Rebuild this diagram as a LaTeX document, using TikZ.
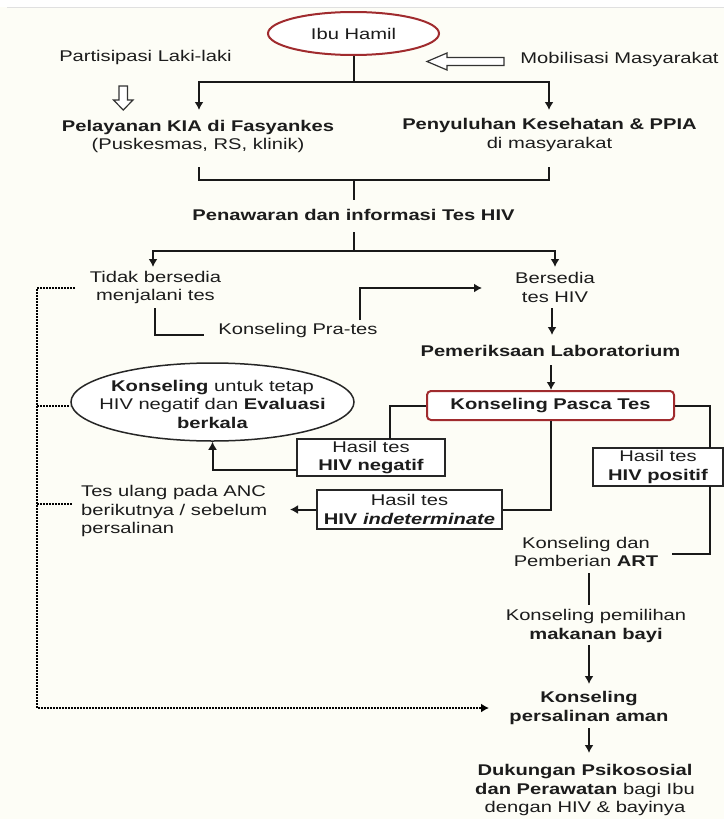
\documentclass[tikz,border=0pt]{standalone}
\usepackage{fontspec}
\setmainfont{Liberation Sans}[FakeStretch=1.3]
\usetikzlibrary{arrows.meta,shapes.geometric}
\definecolor{txt}{HTML}{1C1C1C}
\definecolor{dred}{HTML}{A02B2E}
\definecolor{bg}{HTML}{FDFDF6}
\newcommand{\fs}{\fontsize{15.5}{18.5}\selectfont}
\begin{document}
\begin{tikzpicture}[x=1pt,y=-1pt,
  tx/.style={inner sep=0pt, text=txt, font=\fs, align=center},
  ln/.style={line width=2pt, draw=black!90},
  arr/.style={ln, -{Latex[length=8pt,width=9pt]}},
  boxx/.style={tx, draw=black!85, line width=1.4pt, fill=white},
  dotl/.style={line width=2.2pt, draw=black, dash pattern=on 1.8pt off 1.2pt},
  hol/.style={line width=1.2pt, draw=black!80, fill=white, line join=miter}]
\useasboundingbox (0,0) rectangle (724,819);
\fill[bg] (0,0) rectangle (724,819);
\fill[white] (0,0) rectangle (724,7);
\draw[black!12, line width=0.8pt] (7,7) -- (724,7);

% nodes
\node[tx, draw=dred, line width=2pt, ellipse, minimum width=171pt, minimum height=43pt, fill=white] (ibu) at (353.5,33.5) {Ibu Hamil};
\node[tx] (part) at (145.5,57) {Partisipasi Laki-laki};
\node[tx] (mob) at (619.5,59) {Mobilisasi Masyarakat};
\node[tx] (kia) at (198,136.5) {\textbf{Pelayanan KIA di Fasyankes}\\(Puskesmas, RS, klinik)};
\node[tx] (peny) at (549.5,135) {\textbf{Penyuluhan Kesehatan \& PPIA}\\di masyarakat};
\node[tx, font=\fs\bfseries] (penaw) at (353.5,215) {Penawaran dan informasi Tes HIV};
\node[tx] (tidak) at (155.5,287.5) {Tidak bersedia\\menjalani tes};
\node[tx] (bers) at (555,287.5) {Bersedia\\tes HIV};
\node[tx] (prates) at (298,330) {Konseling Pra-tes};
\node[tx, font=\fs\bfseries] (lab) at (550.5,351) {Pemeriksaan Laboratorium};
\node[tx, font=\fs\bfseries, draw=dred, line width=2pt, rounded corners=4pt, minimum width=247pt, minimum height=29pt, fill=white] (pasca) at (550.5,405.5) {Konseling Pasca Tes};
\node[draw=black!85, line width=1.5pt, ellipse, minimum width=283pt, minimum height=78pt, fill=white, inner sep=0pt] (ell) at (212.5,402) {};
\node[tx] (elltxt) at (212.5,404) {\textbf{Konseling} untuk tetap\\HIV negatif dan \textbf{Evaluasi}\\\textbf{berkala}};
\node[boxx, minimum width=148pt, minimum height=37pt] (neg) at (371,457.5) {Hasil tes\\\textbf{HIV negatif}};
\node[boxx, minimum width=130pt, minimum height=38pt] (pos) at (658,467) {Hasil tes\\\textbf{HIV positif}};
\node[boxx, minimum width=185pt, minimum height=39pt] (ind) at (409.5,509.5) {Hasil tes\\\textbf{HIV \textit{indeterminate}}};
\node[tx, align=left, anchor=west] (ulang) at (81,511) {Tes ulang pada ANC\\berikutnya / sebelum\\persalinan};
\node[tx] (art) at (586,552) {Konseling dan\\Pemberian \textbf{ART}};
\node[tx] (mak) at (596,626) {Konseling pemilihan\\\textbf{makanan bayi}};
\node[tx, font=\fs\bfseries] (pers) at (589,708) {Konseling\\persalinan aman};
\node[tx] (duk) at (585,790) {\textbf{Dukungan Psikososial}\\\textbf{dan Perawatan} bagi Ibu\\dengan HIV \& bayinya};

% coordinates
\coordinate (c1) at (353.5,82);
\coordinate (kiaIn) at (199,110);
\coordinate (penyIn) at (549,110);
\coordinate (kiaOut) at (199,167);
\coordinate (penyOut) at (549,167);
\coordinate (c2) at (353.5,180);
\coordinate (penawIn) at (353.5,200);
\coordinate (penawOut) at (353.5,232);
\coordinate (c3) at (353.5,251);
\coordinate (tidakIn) at (153,267);
\coordinate (bersIn) at (555,267);
\coordinate (tidakOut) at (155,308);
\coordinate (prL) at (204,335);
\coordinate (prR) at (360,320);
\coordinate (bersL) at (482,288);
\coordinate (bersOut) at (552,308);
\coordinate (labIn) at (552,335);
\coordinate (labOut) at (551,365);
\coordinate (negTop) at (390,439);
\coordinate (negL) at (297,470);
\coordinate (ulangR) at (290,509.5);
\coordinate (posTop) at (710,448);
\coordinate (posBot) at (710,486);
\coordinate (artR) at (672,554);
\coordinate (artB) at (589,573);
\coordinate (makT) at (589,605);
\coordinate (makB) at (589,645);
\coordinate (persT) at (589,684);
\coordinate (persB) at (589,728);
\coordinate (dukT) at (589,753);
\coordinate (d0) at (75,288);
\coordinate (d1) at (37,288);
\coordinate (d2) at (37,708);
\coordinate (persL) at (489,708);
\coordinate (d3) at (37,406);
\coordinate (ellL) at (70,406);
\coordinate (d4) at (37,504);
\coordinate (ulangL) at (72,504);

% connectors
\draw[ln] (ibu.south) -- (c1);
\draw[arr] (c1) -| (kiaIn);
\draw[arr] (c1) -| (penyIn);
\draw[ln] (kiaOut) |- (c2) -| (penyOut);
\draw[ln] (c2) -- (penawIn);
\draw[ln] (penawOut) -- (c3);
\draw[arr] (c3) -| (tidakIn);
\draw[arr] (c3) -| (bersIn);
\draw[ln] (tidakOut) |- (prL);
\draw[arr] (prR) |- (bersL);
\draw[arr] (bersOut) -- (labIn);
\draw[arr] (labOut) -- (labOut |- pasca.north);
\draw[ln] (pasca.west) -| (negTop);
\draw[arr] (negL) -| (ell.south);
\draw[ln] (pasca.south) |- (ind.east);
\draw[arr] (ind.west) -- (ulangR);
\draw[ln] (pasca.east) -| (posTop);
\draw[ln] (posBot) |- (artR);
\draw[ln] (artB) -- (makT);
\draw[arr] (makB) -- (persT);
\draw[arr] (persB) -- (dukT);
\draw[dotl, -{Latex[length=8pt,width=9pt]}] (d0) -- (d1) -- (d2) -- (persL);
\draw[dotl] (d3) -- (ellL);
\draw[dotl] (d4) -- (ulangL);

% hollow arrows
\draw[hol] (119,86) -- (127.5,86) -- (127.5,100) -- (133,100) -- (123.25,110) -- (113.5,100) -- (119,100) -- cycle;
\draw[hol] (504,57.5) -- (447,57.5) -- (447,53) -- (427,61.5) -- (447,70) -- (447,65.5) -- (504,65.5) -- cycle;
\end{tikzpicture}
\end{document}
